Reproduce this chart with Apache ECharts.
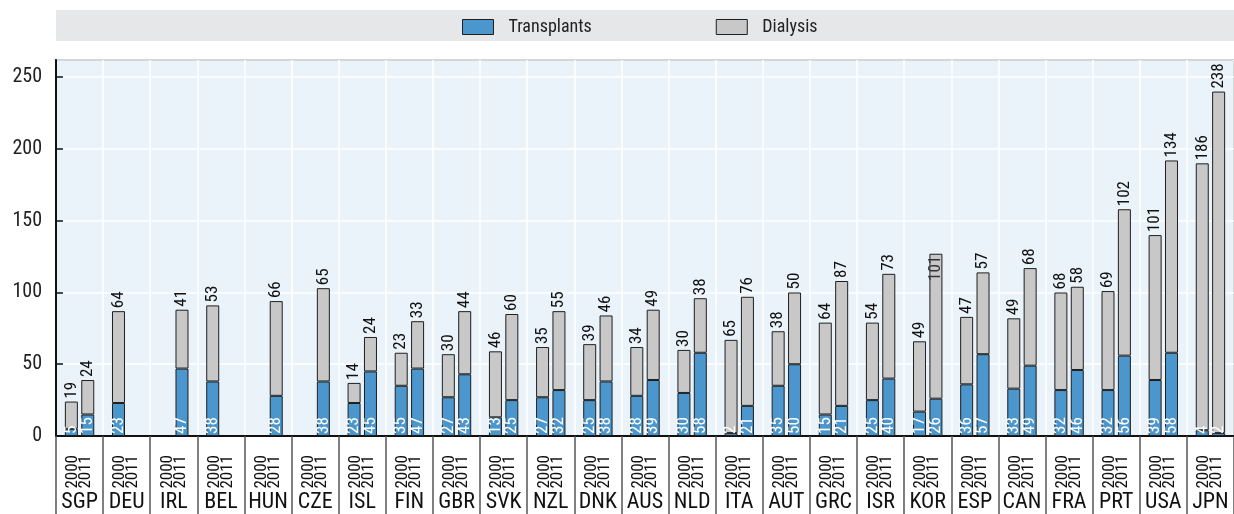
<!DOCTYPE html>
<html>
<head>
<meta charset="utf-8">
<script src="https://cdn.jsdelivr.net/npm/echarts@6/dist/echarts.min.js"></script>
<style>
  html, body { margin: 0; padding: 0; background: #fff; }
  #chart { width: 1234px; height: 514px; }
</style>
</head>
<body>
<div id="chart"></div>
<script>
const countries = ['SGP', 'DEU', 'IRL', 'BEL', 'HUN', 'CZE', 'ISL', 'FIN', 'GBR', 'SVK', 'NZL', 'DNK', 'AUS',
    'NLD', 'ITA', 'AUT', 'GRC', 'ISR', 'KOR', 'ESP', 'CAN', 'FRA', 'PRT', 'USA', 'JPN']

// per million population, 2000 and 2011
const transplants2000 = [5, 23, null, 38, null, null, 23, 35, 27, 13, 27, 25, 28,
    30, 2, 35, 15, 25, 17, 36, 33, 32, 32, 39, 4]
const dialysis2000 = [19, 64, null, 53, null, null, 14, 23, 30, 46, 35, 39, 34,
    30, 65, 38, 64, 54, 49, 47, 49, 68, 69, 101, 186]
const transplants2011 = [15, null, 47, null, 28, 38, 45, 47, 43, 25, 32, 38, 39,
    58, 21, 50, 21, 40, 26, 57, 49, 46, 56, 58, 2]
const dialysis2011 = [24, null, 41, null, 66, 65, 24, 33, 44, 60, 55, 46, 49,
    38, 76, 50, 87, 73, 101, 57, 68, 58, 102, 134, 238]

const yearLabel = '2000\n2011'
const font = "'Liberation Sans Narrow', 'Arial Narrow', 'Roboto Condensed', sans-serif"

const blue = '#4a96cd'
const grey = '#c8c8c8'
const edge = '#1f1f1f'

const chart = echarts.init(document.getElementById('chart'))

function transplantSeries(name, stack, data) {
    return {
        name: name,
        type: 'bar',
        stack: stack,
        data: data,
        barWidth: 13,
        barGap: '26%',
        itemStyle: { color: blue, borderColor: edge, borderWidth: 1 },
        label: {
            show: true,
            position: 'insideBottom',
            rotate: 90,
            align: 'left',
            verticalAlign: 'middle',
            distance: 2,
            color: '#fff',
            fontFamily: font,
            fontSize: 17,
            formatter: p => p.value
        }
    }
}

function dialysisSeries(name, stack, data, insideIdx) {
    return {
        name: name,
        type: 'bar',
        stack: stack,
        barWidth: 13,
        barGap: '26%',
        data: data.map((v, i) => {
            if (i === insideIdx) {
                return {
                    value: v,
                    label: { position: 'insideTop', align: 'right', color: '#333', distance: 2 }
                }
            }
            return v
        }),
        itemStyle: { color: grey, borderColor: edge, borderWidth: 1 },
        label: {
            show: true,
            position: 'top',
            rotate: 90,
            align: 'left',
            verticalAlign: 'middle',
            distance: 3,
            color: '#111',
            fontFamily: font,
            fontSize: 17,
            formatter: p => p.value
        }
    }
}

chart.setOption({
    animation: false,
    textStyle: { fontFamily: font },
    graphic: [{
        type: 'rect',
        left: 56,
        top: 10,
        shape: { width: 1178, height: 31 },
        style: { fill: '#e6e7e9' },
        z: -1
    }],
    legend: {
        left: 462,
        top: 18,
        padding: 0,
        icon: 'rect',
        itemWidth: 31,
        itemHeight: 15,
        itemGap: 124,
        data: ['Transplants', 'Dialysis'],
        itemStyle: { borderColor: edge, borderWidth: 1 },
        textStyle: { fontSize: 18, color: '#222', fontFamily: font, padding: [0, 0, 0, 10] }
    },
    grid: {
        left: 56,
        right: 0,
        top: 60,
        bottom: 78,
        show: true,
        backgroundColor: '#eaf2fa',
        borderColor: '#2a2a2a',
        borderWidth: 1.5
    },
    xAxis: [
        {
            type: 'category',
            data: countries,
            position: 'bottom',
            axisLine: { lineStyle: { color: '#111', width: 2 } },
            axisTick: { inside: true, length: 8, lineStyle: { color: '#111', width: 1.5 } },
            axisLabel: {
                interval: 0,
                rotate: 90,
                margin: 19,
                fontSize: 17,
                lineHeight: 13,
                color: '#111',
                formatter: () => yearLabel
            },
            splitLine: { show: true, lineStyle: { color: '#ffffff', width: 1.5 } }
        },
        {
            type: 'category',
            data: countries,
            position: 'bottom',
            axisLine: { show: false },
            axisTick: { show: true, length: 78, lineStyle: { color: '#555', width: 1.5 } },
            axisLabel: { interval: 0, margin: 55, fontSize: 22, color: '#111' },
            splitLine: { show: false }
        }
    ],
    yAxis: {
        type: 'value',
        min: 0,
        max: 262,
        interval: 50,
        axisLine: { show: true, lineStyle: { color: '#111', width: 2 } },
        axisTick: { show: true, inside: true, length: 7, lineStyle: { color: '#111', width: 1.5 } },
        axisLabel: { fontSize: 20, color: '#222', margin: 14, showMaxLabel: false },
        splitLine: { lineStyle: { color: '#ffffff', width: 1.5 } }
    },
    series: [
        transplantSeries('Transplants', 'y2000', transplants2000),
        dialysisSeries('Dialysis', 'y2000', dialysis2000, -1),
        transplantSeries('Transplants', 'y2011', transplants2011),
        dialysisSeries('Dialysis', 'y2011', dialysis2011, countries.indexOf('KOR'))
    ]
})
</script>
</body>
</html>
